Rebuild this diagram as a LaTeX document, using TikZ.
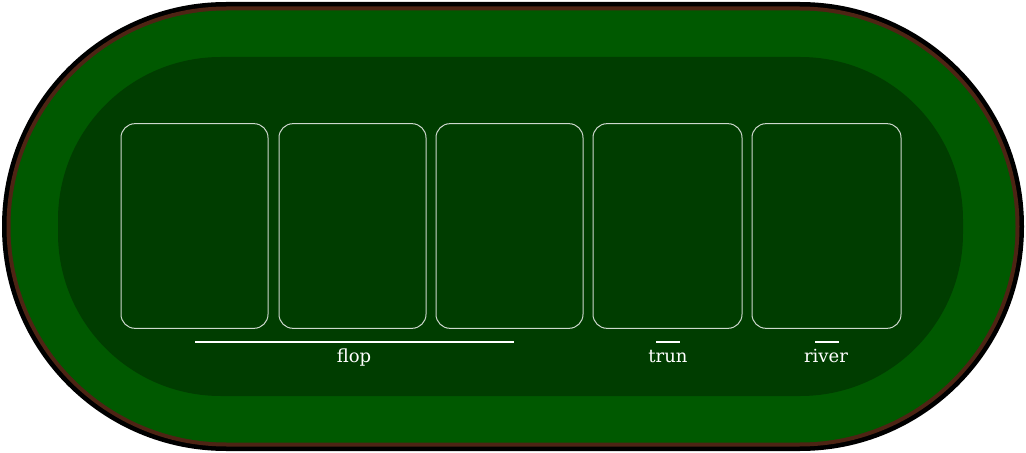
\documentclass[tikz,border=0pt]{standalone}
\usepackage{fontspec}
\setmainfont{DejaVu Serif}
\usepackage{tikz}
\usetikzlibrary{positioning}
\definecolor{railblack}{RGB}{0,0,0}
\definecolor{railbrown}{RGB}{78,36,20}
\definecolor{feltouter}{RGB}{0,89,0}
\definecolor{feltinner}{RGB}{0,61,0}
\definecolor{cardedge}{RGB}{205,215,205}
\tikzset{
  cardslot/.style={draw=cardedge,line width=0.75pt,rounded corners=10.5pt,
    minimum width=110pt,minimum height=153.5pt,inner sep=0pt},
  roundlbl/.style={text=white,font=\fontsize{13.5}{15}\selectfont,inner sep=0pt,anchor=base},
  markline/.style={white,line width=1.5pt}
}
\begin{document}
\begin{tikzpicture}[x=0.75pt,y=-0.75pt]
        \useasboundingbox (0,0) rectangle (1026,453);
        % table rail and felt
        \fill[railblack,rounded corners=168pt] (2,2) rectangle (1024,451);
        \fill[railbrown,rounded corners=165pt] (6.5,6.5) rectangle (1019.5,446.5);
        \fill[feltouter,rounded corners=162pt] (10.5,10.5) rectangle (1015.5,442.5);
        \fill[feltinner,rounded corners=122pt] (58,57) rectangle (963,396);
        % community card slots
        \foreach \x/\w/\n in {194.5/147/flopa,352.5/147/flopb,509.5/147/flopc,667.5/149/turn,826.5/149/river}
          \node[cardslot,minimum width=0.75*\w pt] (\n) at (\x,226) {};
        % labels under the slots
        \coordinate (flopL) at (195,342);
        \coordinate (flopR) at (514,342);
        \coordinate (turnL) at (656,342);
        \coordinate (turnR) at (680,342);
        \coordinate (riverL) at (815,342);
        \coordinate (riverR) at (839,342);
        \draw[markline] (flopL) -- (flopR);
        \draw[markline] (turnL) -- (turnR);
        \draw[markline] (riverL) -- (riverR);
        \node[roundlbl] (floplbl) at (354,362) {flop};
        \node[roundlbl] (turnlbl) at (668,362) {trun};
        \node[roundlbl] (riverlbl) at (826,362) {river};
      \end{tikzpicture}
\end{document}
